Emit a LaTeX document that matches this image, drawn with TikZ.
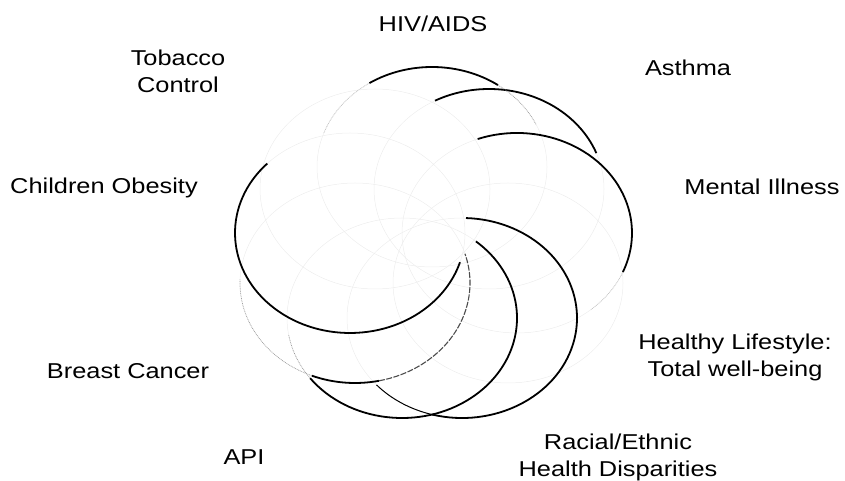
\documentclass[tikz,border=0pt]{standalone}
\usepackage{fontspec}
\setmainfont{Liberation Sans}[FakeStretch=1.18]
\begin{document}
\begin{tikzpicture}[x=1pt,y=1pt,
  lbl/.style={inner sep=0pt,align=center,font=\fontsize{21.5}{27}\selectfont},
  dark/.style={line width=1.8pt,black},
  thinarc/.style={line width=1pt,black},
  mid/.style={line width=1.1pt,black!70,dash pattern=on 6pt off 1.5pt},
  ghost/.style={line width=0.7pt,black!40,densely dotted},
  faint/.style={line width=0.5pt,black!7},
  rad/.style={x radius=115,y radius=100}]
\useasboundingbox (0,0) rectangle (845,481);
% centres of the nine rings
\coordinate (cA) at (350,248);
\coordinate (cB) at (355,198);
\coordinate (cC) at (402,163);
\coordinate (cD) at (462,163);
\coordinate (cE) at (508,198);
\coordinate (cF) at (517,248);
\coordinate (cG) at (489,292);
\coordinate (cH) at (432,314);
\coordinate (cI) at (375,292);
% faint full outlines
\foreach \c in {cA,cB,cC,cD,cE,cF,cG,cH,cI}
  \draw[faint] (\c) ellipse [x radius=115, y radius=100];
% visible arcs
\draw[dark] ([shift={(136:115 and 100)}]cA) arc[start angle=136,end angle=343,rad];
\draw[dark] ([shift={(248:115 and 100)}]cB) arc[start angle=248,end angle=282,rad];
\draw[mid] ([shift={(282:115 and 100)}]cB) arc[start angle=282,end angle=377,rad];
\draw[ghost] ([shift={(178:115 and 100)}]cB) arc[start angle=178,end angle=248,rad];
\draw[dark] ([shift={(217:115 and 100)}]cC) arc[start angle=217,end angle=410,rad];
\draw[ghost] ([shift={(190:115 and 100)}]cC) arc[start angle=190,end angle=217,rad];
\draw[thinarc] ([shift={(222:115 and 100)}]cD) arc[start angle=222,end angle=255,rad];
\draw[dark] ([shift={(255:115 and 100)}]cD) arc[start angle=255,end angle=448,rad];
\draw[dark] ([shift={(110:115 and 100)}]cF) arc[start angle=110,end angle=-23,rad];
\draw[ghost,black!25] ([shift={(-23:115 and 100)}]cF) arc[start angle=-23,end angle=-50,rad];
\draw[dark] ([shift={(118:115 and 100)}]cG) arc[start angle=118,end angle=21,rad];
\draw[dark] ([shift={(123:115 and 100)}]cH) arc[start angle=123,end angle=55,rad];
\draw[ghost] ([shift={(55:115 and 100)}]cH) arc[start angle=55,end angle=25,rad];
\draw[ghost,black!25] ([shift={(123:115 and 100)}]cH) arc[start angle=123,end angle=160,rad];
% labels
\node[lbl] (hiv) at (433,457) {HIV/AIDS};
\node[lbl] (tob) at (178,410) {Tobacco\\Control};
\node[lbl] (obe) at (104,293) {Children Obesity};
\node[lbl] (ast) at (688,413) {Asthma};
\node[lbl] (men) at (762,294) {Mental Illness};
\node[lbl] (hea) at (735,124) {Healthy Lifestyle:\\Total well-being};
\node[lbl] (rac) at (618,24) {Racial/Ethnic\\Health Disparities};
\node[lbl] (api) at (244,24) {API};
\node[lbl] (bre) at (128,110) {Breast Cancer};
\end{tikzpicture}
\end{document}
